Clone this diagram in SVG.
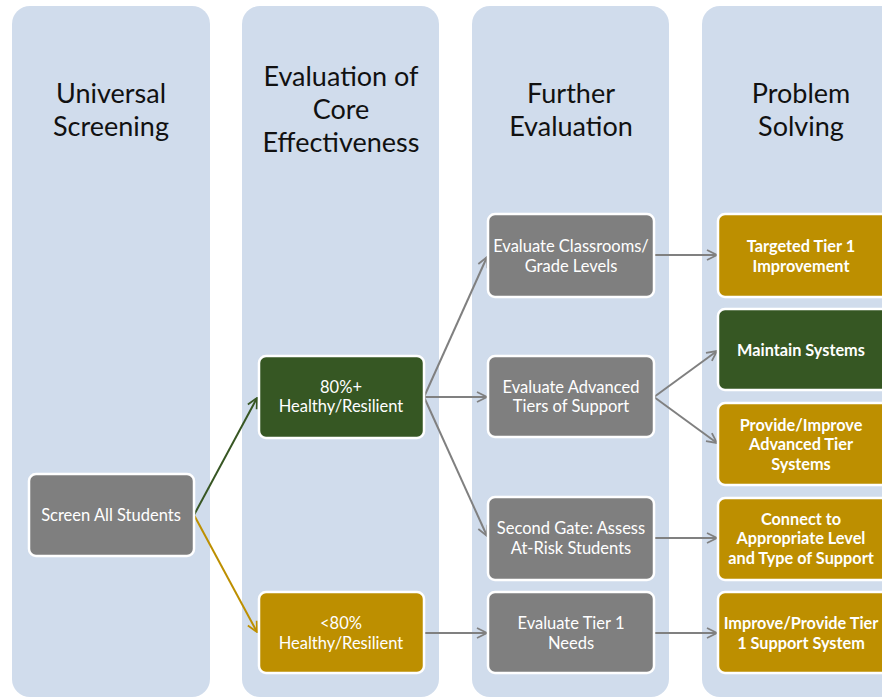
<svg xmlns="http://www.w3.org/2000/svg" width="882" height="698" viewBox="0 0 882 698">
<defs>
<style>
.panel{fill:#d0dcec}
.hdr{font-family:Lato,"Open Sans","Liberation Sans",sans-serif;font-size:27px;fill:#111;text-anchor:middle}
.box{stroke:#fff;stroke-width:2.5}
.gray{fill:#7f7f7f}
.green{fill:#365723}
.gold{fill:#bd8f00}
.lbl{font-family:Lato,"Open Sans","Liberation Sans",sans-serif;font-size:16.5px;fill:#fff;text-anchor:middle}
.lb{font-weight:bold;font-size:16.3px}
.con{fill:none;stroke-width:2}
</style>
<marker id="ag" viewBox="0 0 12 12" refX="11" refY="6" markerWidth="12" markerHeight="12" markerUnits="userSpaceOnUse" orient="auto"><path d="M1,1 L11,6 L1,11" fill="none" stroke="#808080" stroke-width="1.8"/></marker>
<marker id="agr" viewBox="0 0 12 12" refX="11" refY="6" markerWidth="12" markerHeight="12" markerUnits="userSpaceOnUse" orient="auto"><path d="M1,1 L11,6 L1,11" fill="none" stroke="#375623" stroke-width="1.8"/></marker>
<marker id="ago" viewBox="0 0 12 12" refX="11" refY="6" markerWidth="12" markerHeight="12" markerUnits="userSpaceOnUse" orient="auto"><path d="M1,1 L11,6 L1,11" fill="none" stroke="#bd8f00" stroke-width="1.8"/></marker>
</defs>
<rect width="882" height="698" fill="#fff"/>
<g id="panels">
<rect class="panel" x="12" y="6" width="198" height="691" rx="18" ry="18"/>
<rect class="panel" x="242" y="6" width="197" height="691" rx="18" ry="18"/>
<rect class="panel" x="472" y="6" width="197" height="691" rx="18" ry="18"/>
<rect class="panel" x="702" y="6" width="200" height="691" rx="18" ry="18"/>
</g>
<g id="headers">
<text class="hdr" x="111" y="103">Universal</text>
<text class="hdr" x="111" y="136">Screening</text>
<text class="hdr" x="341" y="86">Evaluation of</text>
<text class="hdr" x="341" y="119">Core</text>
<text class="hdr" x="341" y="152">Effectiveness</text>
<text class="hdr" x="571" y="103">Further</text>
<text class="hdr" x="571" y="136">Evaluation</text>
<text class="hdr" x="801" y="103">Problem</text>
<text class="hdr" x="801" y="136">Solving</text>
</g>
<g id="connectors">
<line class="con" x1="194" y1="515" x2="257" y2="398" stroke="#375623" marker-end="url(#agr)"/>
<line class="con" x1="194" y1="515" x2="257" y2="632" stroke="#bd8f00" marker-end="url(#ago)"/>
<line class="con" x1="424" y1="397" x2="487" y2="257" stroke="#808080" marker-end="url(#ag)"/>
<line class="con" x1="424" y1="397" x2="487" y2="397" stroke="#808080" marker-end="url(#ag)"/>
<line class="con" x1="424" y1="397" x2="487" y2="536" stroke="#808080" marker-end="url(#ag)"/>
<line class="con" x1="424" y1="633" x2="487" y2="633" stroke="#808080" marker-end="url(#ag)"/>
<line class="con" x1="654" y1="255" x2="717" y2="255" stroke="#808080" marker-end="url(#ag)"/>
<line class="con" x1="654" y1="397" x2="717" y2="351" stroke="#808080" marker-end="url(#ag)"/>
<line class="con" x1="654" y1="397" x2="717" y2="443" stroke="#808080" marker-end="url(#ag)"/>
<line class="con" x1="654" y1="538" x2="717" y2="538" stroke="#808080" marker-end="url(#ag)"/>
<line class="con" x1="654" y1="633" x2="717" y2="633" stroke="#808080" marker-end="url(#ag)"/>
</g>
<g id="n-screen">
<rect class="box gray" x="29" y="474" width="165" height="82" rx="7"/>
<text class="lbl" x="111" y="521">Screen All Students</text>
</g>
<g id="n-80plus">
<rect class="box green" x="259" y="356" width="165" height="82" rx="7"/>
<text class="lbl" x="341" y="393">80%+</text>
<text class="lbl" x="341" y="412">Healthy/Resilient</text>
</g>
<g id="n-80less">
<rect class="box gold" x="259" y="592" width="165" height="81" rx="7"/>
<text class="lbl" x="341" y="629">&lt;80%</text>
<text class="lbl" x="341" y="649">Healthy/Resilient</text>
</g>
<g id="n-classrooms">
<rect class="box gray" x="488" y="214" width="166" height="83" rx="7"/>
<text class="lbl" x="571" y="252">Evaluate Classrooms/</text>
<text class="lbl" x="571" y="272">Grade Levels</text>
</g>
<g id="n-advanced">
<rect class="box gray" x="488" y="356" width="166" height="81" rx="7"/>
<text class="lbl" x="571" y="393">Evaluate Advanced</text>
<text class="lbl" x="571" y="412">Tiers of Support</text>
</g>
<g id="n-secondgate">
<rect class="box gray" x="488" y="497" width="166" height="83" rx="7"/>
<text class="lbl" x="571" y="534">Second Gate: Assess</text>
<text class="lbl" x="571" y="554">At-Risk Students</text>
</g>
<g id="n-tier1needs">
<rect class="box gray" x="488" y="592" width="166" height="81" rx="7"/>
<text class="lbl" x="571" y="629">Evaluate Tier 1</text>
<text class="lbl" x="571" y="649">Needs</text>
</g>
<g id="n-targeted">
<rect class="box gold" x="718" y="214" width="170" height="83" rx="7"/>
<text class="lbl lb" x="801" y="252">Targeted Tier 1</text>
<text class="lbl lb" x="801" y="272">Improvement</text>
</g>
<g id="n-maintain">
<rect class="box green" x="718" y="309" width="170" height="81" rx="7"/>
<text class="lbl lb" x="801" y="356">Maintain Systems</text>
</g>
<g id="n-provide">
<rect class="box gold" x="718" y="403" width="170" height="82" rx="7"/>
<text class="lbl lb" x="801" y="431">Provide/Improve</text>
<text class="lbl lb" x="801" y="450">Advanced Tier</text>
<text class="lbl lb" x="801" y="470">Systems</text>
</g>
<g id="n-connect">
<rect class="box gold" x="718" y="498" width="170" height="82" rx="7"/>
<text class="lbl lb" x="801" y="525">Connect to</text>
<text class="lbl lb" x="801" y="544">Appropriate Level</text>
<text class="lbl lb" x="801" y="564">and Type of Support</text>
</g>
<g id="n-improve">
<rect class="box gold" x="718" y="592" width="170" height="81" rx="7"/>
<text class="lbl lb" x="801" y="629">Improve/Provide Tier</text>
<text class="lbl lb" x="801" y="649">1 Support System</text>
</g>
</svg>
